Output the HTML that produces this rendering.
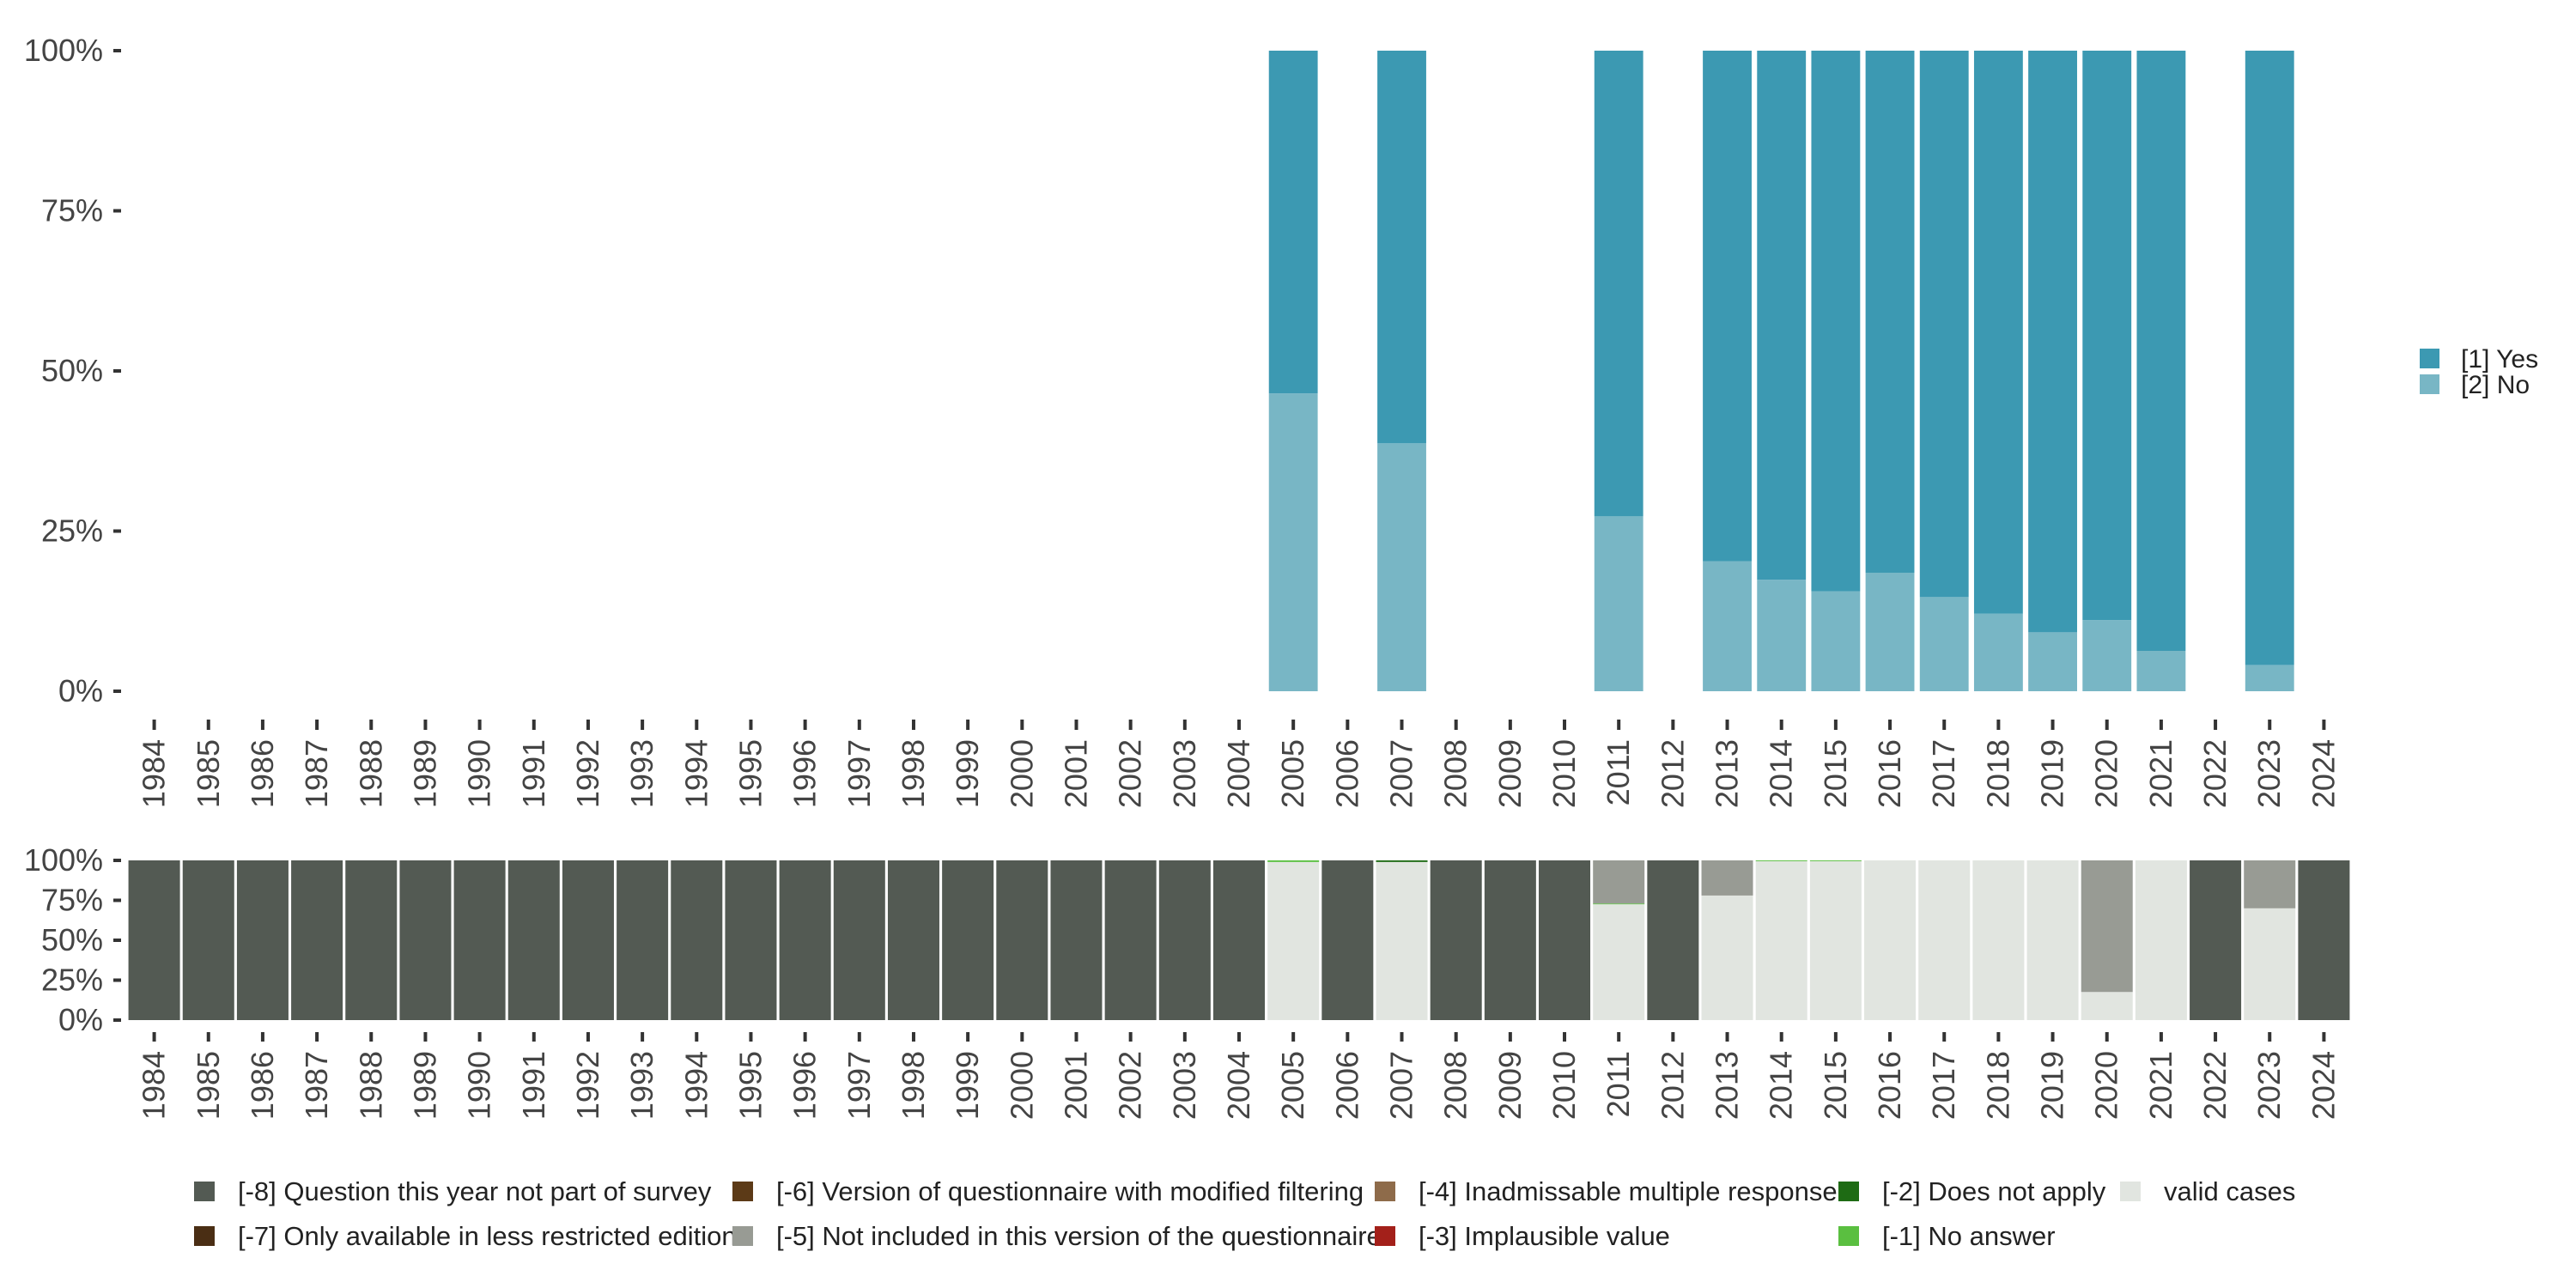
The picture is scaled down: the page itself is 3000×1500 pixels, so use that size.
<!DOCTYPE html>
<html><head><meta charset="utf-8"><style>
html,body{margin:0;padding:0;background:#fff;}
svg{display:block;font-family:"Liberation Sans",sans-serif;}
</style></head><body>
<svg id="chart" width="3000" height="1500" viewBox="0 0 3000 1500" xmlns="http://www.w3.org/2000/svg">
<g id="topPanel"></g>
<g id="botPanel"></g>
<g id="legend-top">
  <rect x="2818" y="406" width="23" height="23" fill="#3c99b2"/>
  <text x="2866" y="428" font-size="30" fill="#222">[1] Yes</text>
  <rect x="2818" y="436" width="23" height="23" fill="#78b6c5"/>
  <text x="2866" y="458" font-size="30" fill="#222">[2] No</text>
</g>
<g id="legend-bottom"></g>
</svg>
<script>
const years = [];
for (let y = 1984; y <= 2024; y++) years.push(y);
const noYears = [2005, 2007, 2011, 2013, 2014, 2015, 2016, 2017, 2018, 2019, 2020, 2021, 2023];
const noPct = [46.5, 38.7, 27.3, 20.3, 17.4, 15.6, 18.5, 14.7, 12.1, 9.2, 11.1, 6.3, 4.1];
const yesPct = [53.5, 61.3, 72.7, 79.7, 82.6, 84.4, 81.5, 85.3, 87.9, 90.8, 88.9, 93.7, 95.9];
const yTicks = [0, 25, 50, 75, 100];
const yTickLabels = ["0%", "25%", "50%", "75%", "100%"];
const validPct = [0,0,0,0,0,0,0,0,0,0,0,0,0,0,0,0,0,0,0,0,0, 99,0,99,0,0,0, 72.5,0,78,99.5,99.5,100,100,100,100,17.6,100,0,70,0];
const naPct    = [0,0,0,0,0,0,0,0,0,0,0,0,0,0,0,0,0,0,0,0,0, 1,0,0,0,0,0, 0.5,0,0,0.5,0.5,0,0,0,0,0,0,0,0,0];
const dnaPct   = [0,0,0,0,0,0,0,0,0,0,0,0,0,0,0,0,0,0,0,0,0, 0,0,1,0,0,0, 0,0,0,0,0,0,0,0,0,0,0,0,0,0];
const notInclPct=[0,0,0,0,0,0,0,0,0,0,0,0,0,0,0,0,0,0,0,0,0, 0,0,0,0,0,0, 27,0,22,0,0,0,0,0,0,82.4,0,0,30,0];
const notSurveyPct=[100,100,100,100,100,100,100,100,100,100,100,100,100,100,100,100,100,100,100,100,100, 0,100,0,100,100,100, 0,100,0,0,0,0,0,0,0,0,0,100,0,100];
const legendLabels = ["[-8] Question this year not part of survey","[-7] Only available in less restricted edition","[-6] Version of questionnaire with modified filtering","[-5] Not included in this version of the questionnaire","[-4] Inadmissable multiple response","[-3] Implausible value","[-2] Does not apply","[-1] No answer","valid cases"];

const NS = "http://www.w3.org/2000/svg";
function mk(tag, attrs, parent, txt) {
  const e = document.createElementNS(NS, tag);
  for (const k in attrs) e.setAttribute(k, attrs[k]);
  if (txt !== undefined) e.textContent = txt;
  parent.appendChild(e);
  return e;
}
const X0 = 148, X1 = 2738;
const step = (X1 - X0) / years.length;
function xc(yr) { return X0 + (years.indexOf(yr) + 0.5) * step; }
function yTop(v) { return 805 - v / 100 * (805 - 59); }
function yBot(v) { return 1188 - v / 100 * (1188 - 1002); }

const topPanel = document.getElementById('topPanel');
const botPanel = document.getElementById('botPanel');

yTicks.forEach((t, i) => {
  const yy = yTop(t);
  const tk = mk('line', {x1:132, x2:141, y1:yy, y2:yy, stroke:'#333', 'stroke-width':4}, topPanel);
  
  
  const tl = mk('text', {x:120, y:yy+12, 'text-anchor':'end', 'font-size':36, fill:'#444'}, topPanel, yTickLabels[i]);
  
  
});
yTicks.forEach((t, i) => {
  const yy = yBot(t);
  const tk = mk('line', {x1:132, x2:141, y1:yy, y2:yy, stroke:'#333', 'stroke-width':4}, botPanel);
  
  
  const tl = mk('text', {x:120, y:yy+12, 'text-anchor':'end', 'font-size':36, fill:'#444'}, botPanel, yTickLabels[i]);
  
  
});
years.forEach(yr => {
  const x = xc(yr);
  const a = mk('line', {x1:x, x2:x, y1:838, y2:850, stroke:'#333', 'stroke-width':4}, topPanel);
  
  
  const al = mk('text', {x:0, y:0, transform:`translate(${x+12},861) rotate(-90)`, 'text-anchor':'end', 'font-size':36, fill:'#444'}, topPanel, String(yr));
  
  
  const b = mk('line', {x1:x, x2:x, y1:1202, y2:1213, stroke:'#333', 'stroke-width':4}, botPanel);
  
  
  const bl = mk('text', {x:0, y:0, transform:`translate(${x+12},1224) rotate(-90)`, 'text-anchor':'end', 'font-size':36, fill:'#444'}, botPanel, String(yr));
  
  
});
const bw = step * 0.9;
noYears.forEach((yr, i) => {
  const x = xc(yr) - bw / 2;
  const n = noPct[i], ys = yesPct[i];
  const rn = mk('rect', {x:x, y:yTop(n), width:bw, height:yTop(0)-yTop(n), fill:'#78b6c5'}, topPanel);
  
  
  const ry = mk('rect', {x:x, y:yTop(n+ys), width:bw, height:yTop(n)-yTop(n+ys), fill:'#3c99b2'}, topPanel);
  
  
});
const bw2 = step * 0.95;
const series = [[validPct,'#e1e5e0','valid'],[naPct,'#5abf40','no-answer'],[dnaPct,'#1e6b14','does-not-apply'],[notInclPct,'#989b94','not-included'],[notSurveyPct,'#535a53','not-in-survey']];
years.forEach((yr, i) => {
  let cum = 0;
  const x = xc(yr) - bw2 / 2;
  series.forEach(s => {
    const v = s[0][i];
    if (v > 0) {
      const r = mk('rect', {x:x, y:yBot(cum+v), width:bw2, height:yBot(cum)-yBot(cum+v), fill:s[1]}, botPanel);
      
      
    }
    cum += v;
  });
});
const lg = document.getElementById('legend-bottom');
const legColors = ['#535a53','#4a2e14','#5c3a17','#989b94','#8e6b4a','#a3201a','#1e6b14','#5abf40','#e1e5e0'];
const colX = [226, 853, 1601, 2141, 2469];
legendLabels.forEach((lab, i) => {
  const col = Math.floor(i / 2), row = i % 2;
  const x = colX[col], y = row === 0 ? 1376 : 1428;
  const sw = mk('rect', {x:x, y:y, width:24, height:23, fill:legColors[i]}, lg);
  
  
  const t = mk('text', {x:x+51, y:y+22, 'font-size':31, fill:'#222'}, lg, lab);
  
  
});
</script>
</body></html>
